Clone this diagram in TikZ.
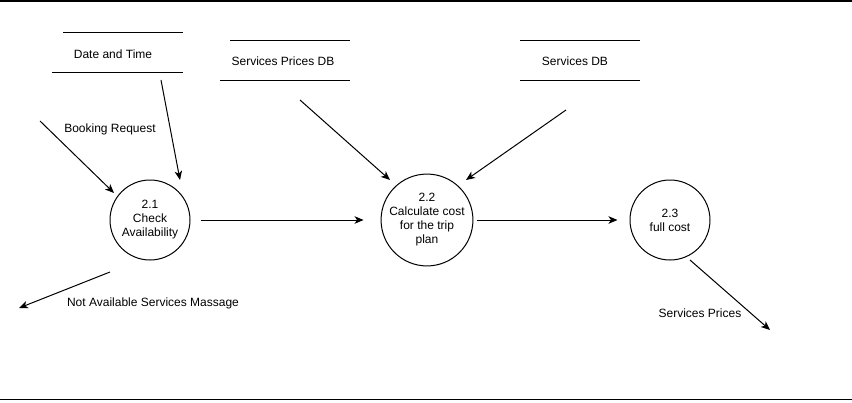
\documentclass[tikz,border=0pt]{standalone}
\usepackage{fontspec}
\setmainfont{Liberation Sans}
\usetikzlibrary{arrows.meta}
\begin{document}
\begin{tikzpicture}[x=1pt,y=-1pt,
  every node/.style={font=\fontsize{12}{14}\selectfont},
  proc/.style={draw,circle,minimum size=80pt,inner sep=0pt,align=center,line width=1pt},
  storeline/.style={line width=1pt},
  flow/.style={line width=1pt,-{Stealth[length=9pt,width=7.5pt,inset=2.5pt]}},
  lbl/.style={inner sep=1pt},
  frame/.style={line width=1.5pt}]
\useasboundingbox (0,0) rectangle (852,402);
% page borders
\draw[frame] (0,0.75) -- (852,0.75);
\draw[frame] (0,399.5) -- (852,399.5);

% data stores
\node (dt) at (113,54) {Date and Time};
\draw[storeline] (63,32) -- (183,32);
\draw[storeline] (52,72) -- (183,72);

\node (spdb) at (283,61) {Services Prices DB};
\draw[storeline] (230,40) -- (350,40);
\draw[storeline] (220,80) -- (350,80);

\node (sdb) at (575,61) {Services DB};
\draw[storeline] (520,40) -- (640,40);
\draw[storeline] (520,80) -- (640,80);

% processes
\node[proc] (p1) at (150,220) {2.1\\Check\\Availability};
\node[proc] (p2) at (427,220) {2.2\\Calculate cost\\for the trip\\plan};
\node[proc] (p3) at (670,220) {2.3\\full cost};

% free ends
\coordinate (bkS) at (40,121);
\coordinate (bkE) at (114,193);
\coordinate (dtS) at (161,80);
\coordinate (dtE) at (180,180);
\coordinate (naS) at (110,272);
\coordinate (naE) at (19,308);
\coordinate (spS) at (300,100);
\coordinate (spE) at (390,180);
\coordinate (sdS) at (566,110);
\coordinate (sdE) at (466,180);
\coordinate (outS) at (690,260);
\coordinate (outE) at (770,330);

% flows
\draw[flow] (bkS) -- (bkE);
\node[lbl] (bkl) at (110,129) {Booking Request};
\draw[flow] (dtS) -- (dtE);
\draw[flow] (naS) -- (naE);
\node[lbl] (nal) at (153,303) {Not Available Services Massage};
\draw[flow] (spS) -- (spE);
\draw[flow] (sdS) -- (sdE);
\draw[flow,shorten <=10pt,shorten >=17pt] (p1.east) -- (p2.west);
\draw[flow,shorten <=4pt,shorten >=12pt] (p2.east) -- (p3.west);
\draw[flow] (outS) -- (outE);
\node[lbl] (outl) at (700,313) {Services Prices};
\end{tikzpicture}
\end{document}
